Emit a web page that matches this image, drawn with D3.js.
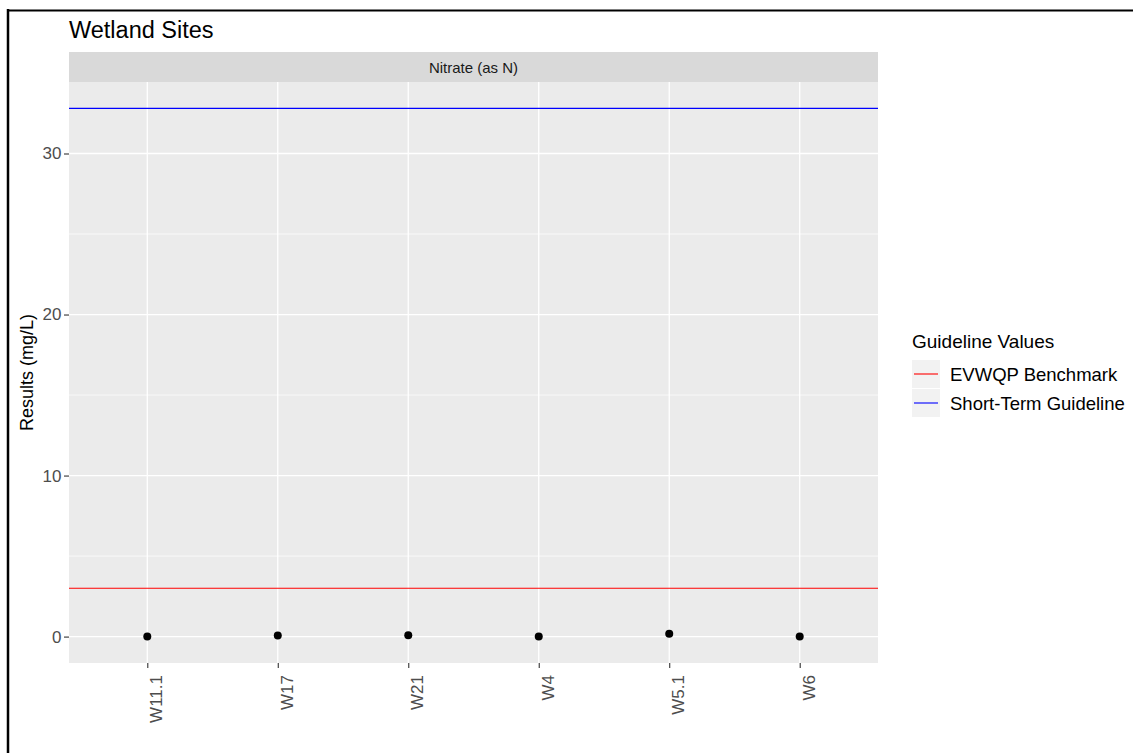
<!DOCTYPE html>
<html>
<head>
<meta charset="utf-8">
<script src="https://cdn.jsdelivr.net/npm/d3@7"></script>
<style>
  body { margin: 0; background: #fff; }
  svg { display: block; font-family: "Liberation Sans", Arial, sans-serif; }
</style>
</head>
<body>
<svg id="chart"></svg>
<script>
// data
const sites = [ 'W11.1', 'W17', 'W21', 'W4', 'W5.1', 'W6' ];
const results = [ 0.0, 0.07, 0.08, 0.0, 0.17, 0.0 ];
const guideNames = [ 'EVWQP Benchmark', 'Short-Term Guideline' ];
const guideValues = [ 3.0, 32.8 ];
const guideColors = [ '#ff0000', '#0000ff' ];
const yTicks = [ 0, 10, 20, 30 ];
const yMinor = [ 5, 15, 25 ];

const width = 1133, height = 753;
const panel = { left: 69, right: 878, top: 82, bottom: 663 };
const font = '"Liberation Sans", Arial, sans-serif';

const svg = d3.select( '#chart' )
    .attr( 'width', width )
    .attr( 'height', height );

// screenshot frame
svg.append( 'line' )
    .attr( 'x1', 8 ).attr( 'x2', 8 ).attr( 'y1', 9 ).attr( 'y2', height )
    .attr( 'stroke', '#000' ).attr( 'stroke-width', 2.5 );
svg.append( 'line' )
    .attr( 'x1', 7 ).attr( 'x2', width ).attr( 'y1', 10.5 ).attr( 'y2', 10.5 )
    .attr( 'stroke', '#000' ).attr( 'stroke-width', 2 );

// scales
const allY = results.concat( guideValues );
const yMin = d3.min( allY ), yMax = d3.max( allY );
const pad = ( yMax - yMin ) * 0.05;
const yscale = d3.scaleLinear()
    .domain( [ yMin - pad, yMax + pad ] )
    .range( [ panel.bottom, panel.top ] );

const xscale = d3.scalePoint()
    .domain( sites )
    .range( [ panel.left, panel.right ] )
    .padding( 0.6 );

// title
svg.append( 'text' )
    .attr( 'x', panel.left )
    .attr( 'y', 38 )
    .style( 'font-size', '23.5px' )
    .attr( 'fill', '#000' )
    .text( 'Wetland Sites' );

// strip
svg.append( 'rect' )
    .attr( 'x', panel.left ).attr( 'y', 52 )
    .attr( 'width', panel.right - panel.left ).attr( 'height', panel.top - 52 )
    .attr( 'fill', '#d9d9d9' );
svg.append( 'text' )
    .attr( 'x', ( panel.left + panel.right ) / 2 )
    .attr( 'y', 72.5 )
    .attr( 'text-anchor', 'middle' )
    .style( 'font-size', '15px' )
    .attr( 'fill', '#1a1a1a' )
    .text( 'Nitrate (as N)' );

// panel background
svg.append( 'rect' )
    .attr( 'x', panel.left ).attr( 'y', panel.top )
    .attr( 'width', panel.right - panel.left ).attr( 'height', panel.bottom - panel.top )
    .attr( 'fill', '#ebebeb' );

const grid = svg.append( 'g' );
grid.selectAll( '.minor' )
    .data( yMinor )
    .enter()
    .append( 'line' )
    .attr( 'x1', panel.left ).attr( 'x2', panel.right )
    .attr( 'y1', d => yscale( d ) ).attr( 'y2', d => yscale( d ) )
    .attr( 'stroke', '#fff' ).attr( 'stroke-width', 0.7 );
grid.selectAll( '.majory' )
    .data( yTicks )
    .enter()
    .append( 'line' )
    .attr( 'x1', panel.left ).attr( 'x2', panel.right )
    .attr( 'y1', d => yscale( d ) ).attr( 'y2', d => yscale( d ) )
    .attr( 'stroke', '#fff' ).attr( 'stroke-width', 1.3 );
grid.selectAll( '.majorx' )
    .data( sites )
    .enter()
    .append( 'line' )
    .attr( 'x1', d => xscale( d ) ).attr( 'x2', d => xscale( d ) )
    .attr( 'y1', panel.top ).attr( 'y2', panel.bottom )
    .attr( 'stroke', '#fff' ).attr( 'stroke-width', 1.3 );

// guideline lines
svg.selectAll( '.guide' )
    .data( guideValues )
    .enter()
    .append( 'line' )
    .attr( 'x1', panel.left ).attr( 'x2', panel.right )
    .attr( 'y1', d => yscale( d ) ).attr( 'y2', d => yscale( d ) )
    .attr( 'stroke', ( d, i ) => guideColors[ i ] )
    .attr( 'stroke-width', 1.1 );

// points
svg.selectAll( 'circle' )
    .data( results )
    .enter()
    .append( 'circle' )
    .attr( 'cx', ( d, i ) => xscale( sites[ i ] ) )
    .attr( 'cy', d => yscale( d ) )
    .attr( 'r', 4 )
    .attr( 'fill', '#000' );

// axes
const yaxis = d3.axisLeft( yscale )
    .tickValues( yTicks )
    .tickSize( 5 )
    .tickSizeOuter( 0 )
    .tickPadding( 2.5 );
const yg = svg.append( 'g' )
    .attr( 'transform', `translate(${panel.left}, 0)` )
    .call( yaxis );
yg.select( '.domain' ).remove();
yg.selectAll( 'line' ).attr( 'stroke', '#333' ).attr( 'stroke-width', 1.1 );
yg.selectAll( 'text' ).style( 'font-size', '17px' ).attr( 'fill', '#4d4d4d' )
    .style( 'font-family', font );

const xaxis = d3.axisBottom( xscale )
    .tickSize( 5 )
    .tickSizeOuter( 0 );
const xg = svg.append( 'g' )
    .attr( 'transform', `translate(0, ${panel.bottom})` )
    .call( xaxis );
xg.select( '.domain' ).remove();
xg.selectAll( 'line' ).attr( 'stroke', '#333' ).attr( 'stroke-width', 1.1 );
xg.selectAll( 'text' )
    .attr( 'y', 0 ).attr( 'dy', null )
    .attr( 'x', 0 )
    .attr( 'transform', 'translate(14.5, 12) rotate(-90)' )
    .attr( 'text-anchor', 'end' )
    .style( 'font-size', '17px' )
    .style( 'font-family', font )
    .attr( 'fill', '#4d4d4d' );

// y label
svg.append( 'text' )
    .attr( 'transform', `translate(33, ${( panel.top + panel.bottom ) / 2}) rotate(-90)` )
    .attr( 'text-anchor', 'middle' )
    .style( 'font-size', '18px' )
    .attr( 'fill', '#000' )
    .text( 'Results (mg/L)' );

// legend
const legend = svg.append( 'g' ).attr( 'transform', 'translate(912, 348)' );
legend.append( 'text' )
    .attr( 'x', 0 ).attr( 'y', 0 )
    .style( 'font-size', '19px' )
    .attr( 'fill', '#000' )
    .text( 'Guideline Values' );
const keys = legend.selectAll( '.key' )
    .data( guideNames )
    .enter()
    .append( 'g' )
    .attr( 'transform', ( d, i ) => `translate(0, ${12 + i * 29})` );
keys.append( 'rect' )
    .attr( 'width', 28 ).attr( 'height', 28 )
    .attr( 'fill', '#f2f2f2' );
keys.append( 'line' )
    .attr( 'x1', 2 ).attr( 'x2', 26 )
    .attr( 'y1', 14 ).attr( 'y2', 14 )
    .attr( 'stroke', ( d, i ) => guideColors[ i ] )
    .attr( 'stroke-width', 1.1 );
keys.append( 'text' )
    .attr( 'x', 38 ).attr( 'y', 21 )
    .style( 'font-size', '18.5px' )
    .attr( 'fill', '#000' )
    .text( d => d );
</script>
</body>
</html>
